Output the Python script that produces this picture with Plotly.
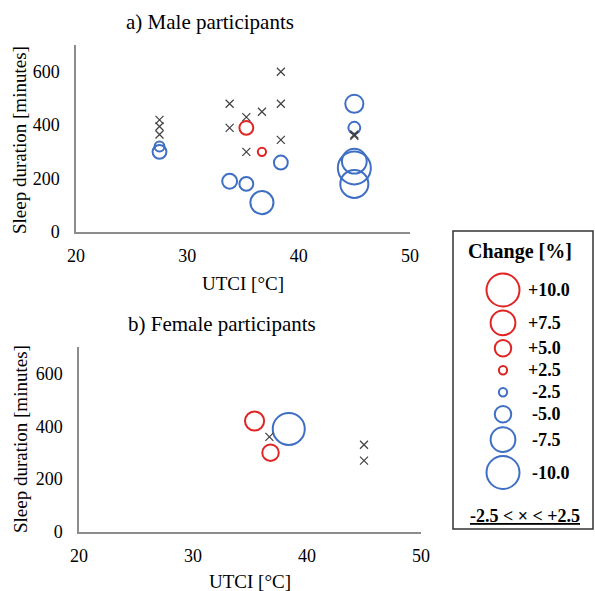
import plotly.graph_objects as go

W, H = 595, 591

# ---------------- data ----------------
x_ticks = [20, 30, 40, 50]
y_ticks = [0, 200, 400, 600]

# a) Male participants
male_cross_utci = [27.5, 27.5, 27.5, 33.8, 33.8, 35.3, 35.3, 36.7, 38.4, 38.4, 38.4, 45.0, 45.0]
male_cross_sleep = [420, 395, 365, 480, 390, 430, 300, 450, 600, 480, 345, 365, 360]
male_circle_utci = [27.5, 27.5, 35.3, 36.7, 33.8, 35.3, 36.7, 38.4, 45.0, 45.0, 45.0, 45.0, 45.0]
male_circle_sleep = [320, 300, 390, 300, 190, 180, 110, 260, 480, 390, 265, 240, 180]
male_circle_change = [-3.0, -4.2, 4.2, 2.5, -4.5, -4.2, -7.0, -4.2, -5.5, -3.6, -7.5, -10.0, -8.5]

# b) Female participants
female_cross_utci = [36.7, 45.0, 45.0]
female_cross_sleep = [360, 330, 270]
female_circle_utci = [35.4, 36.8, 38.4]
female_circle_sleep = [420, 300, 390]
female_circle_change = [5.8, 5.0, -9.7]

# legend
legend_change = [10.0, 7.5, 5.0, 2.5, -2.5, -5.0, -7.5, -10.0]
legend_labels = ["+10.0", "+7.5", "+5.0", "+2.5", "-2.5", "-5.0", "-7.5", "-10.0"]

# ---------------- styles ----------------
RED = "#e02424"
BLUE = "#3f6fc4"
CROSS = "#404040"
AXIS = "#8c8c8c"
FONT = "Liberation Serif"
SIZE_PER_PCT = 3.3


def diam(c):
    return SIZE_PER_PCT * abs(c)


def col(c):
    return RED if c > 0 else BLUE


def px_x(p):
    return p / W


def px_y(p):
    return 1 - p / H


fig = go.Figure()


def add_panel(cu, cs, bu, bs, bc, xa, ya):
    fig.add_trace(go.Scatter(
        x=bu, y=bs, mode="markers", xaxis=xa, yaxis=ya, showlegend=False,
        marker=dict(symbol="circle-open", size=[diam(c) for c in bc], opacity=1,
                    color=[col(c) for c in bc],
                    line=dict(width=2, color=[col(c) for c in bc])),
        cliponaxis=False))
    fig.add_trace(go.Scatter(
        x=cu, y=cs, mode="markers", xaxis=xa, yaxis=ya, showlegend=False,
        marker=dict(symbol="x-thin-open", size=8, color=CROSS, opacity=1,
                    line=dict(width=1.2, color=CROSS)),
        cliponaxis=False))


add_panel(male_cross_utci, male_cross_sleep, male_circle_utci, male_circle_sleep,
          male_circle_change, "x", "y")
add_panel(female_cross_utci, female_cross_sleep, female_circle_utci, female_circle_sleep,
          female_circle_change, "x2", "y2")

# legend bubbles (in a pixel-space overlay axis)
leg_x = 503
pad, min_h = 4, 18
hs = [max(diam(c), min_h) + pad for c in legend_change]
leg_y = [290]
for i in range(1, len(legend_change)):
    leg_y.append(leg_y[-1] + (hs[i - 1] + hs[i]) / 2)

fig.add_trace(go.Scatter(
    x=[leg_x] * len(legend_change), y=leg_y, mode="markers", xaxis="x3", yaxis="y3",
    showlegend=False,
    marker=dict(symbol="circle-open", size=[diam(c) for c in legend_change], opacity=1,
                color=[col(c) for c in legend_change],
                line=dict(width=2, color=[col(c) for c in legend_change])),
    cliponaxis=False))

annotations = []
for c, lab, yy in zip(legend_change, legend_labels, leg_y):
    annotations.append(dict(x=526 if c > 0 else 530, y=yy, xref="x3", yref="y3",
                            text="<b>" + lab + "</b>", showarrow=False,
                            xanchor="left", yanchor="middle",
                            font=dict(family=FONT, size=18, color="black")))
annotations.append(dict(x=520, y=251, xref="x3", yref="y3", text="<b>Change [%]</b>",
                        showarrow=False, xanchor="center", yanchor="middle",
                        font=dict(family=FONT, size=20, color="black")))
annotations.append(dict(x=524.5, y=516, xref="x3", yref="y3",
                        text="<b><u>-2.5 < × < +2.5</u></b>",
                        showarrow=False, xanchor="center", yanchor="middle",
                        font=dict(family=FONT, size=18, color="black")))

# panel titles & axis titles
for (tx, ty, txt, sz, ang) in [
    (210, 22, "a) Male participants", 21, 0),
    (222, 324, "b) Female participants", 21, 0),
    (243, 283, "UTCI [°C]", 19, 0),
    (250, 581, "UTCI [°C]", 19, 0),
    (20, 140, "Sleep duration [minutes]", 19, -90),
    (20, 439, "Sleep duration [minutes]", 19, -90),
]:
    annotations.append(dict(x=px_x(tx), y=px_y(ty), xref="paper", yref="paper", text=txt,
                            showarrow=False, xanchor="center", yanchor="middle",
                            textangle=ang, font=dict(family=FONT, size=sz, color="black")))

axis_common = dict(showgrid=False, zeroline=False, showline=True, linecolor=AXIS,
                   linewidth=1.5, ticks="outside", tickcolor="rgba(0,0,0,0)",
                   automargin=False,
                   tickfont=dict(family=FONT, size=18, color="black"), fixedrange=True)

fig.update_layout(
    width=W, height=H, margin=dict(l=0, r=0, t=0, b=0, autoexpand=False),
    paper_bgcolor="white", plot_bgcolor="rgba(0,0,0,0)",
    xaxis=dict(domain=[px_x(76), px_x(410)], anchor="y", range=[20, 50],
               tickvals=x_ticks, ticklen=7, **axis_common),
    yaxis=dict(domain=[px_y(232), px_y(45)], anchor="x", range=[0, 700],
               tickvals=y_ticks, ticklen=11, **axis_common),
    xaxis2=dict(domain=[px_x(79), px_x(421)], anchor="y2", range=[20, 50],
                tickvals=x_ticks, ticklen=7, **axis_common),
    yaxis2=dict(domain=[px_y(532), px_y(347)], anchor="x2", range=[0, 700],
                tickvals=y_ticks, ticklen=11, **axis_common),
    xaxis3=dict(domain=[0, 1], anchor="y3", range=[0, W], visible=False, fixedrange=True,
                automargin=False),
    yaxis3=dict(domain=[0, 1], anchor="x3", range=[H, 0], visible=False, fixedrange=True,
                automargin=False),
    annotations=annotations,
    shapes=[dict(type="rect", xref="paper", yref="paper",
                 x0=px_x(453), x1=px_x(593), y0=px_y(529), y1=px_y(231),
                 line=dict(color="#333333", width=1.5), fillcolor="rgba(0,0,0,0)")],
)

fig.write_html("out.html", config={"displayModeBar": False},
               post_script="document.body.style.margin='0px';document.body.style.overflow='hidden';")
